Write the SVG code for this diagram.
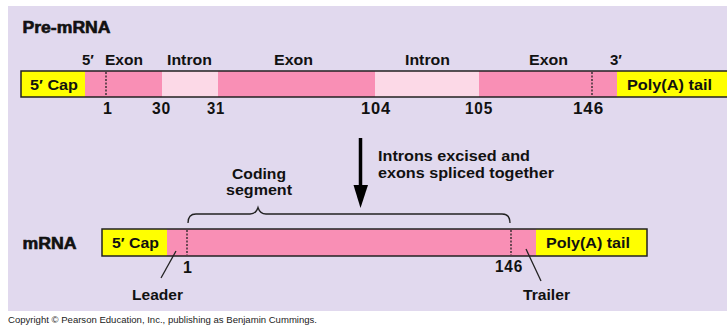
<svg xmlns="http://www.w3.org/2000/svg" width="727" height="330" viewBox="0 0 727 330">
<style>
.t{font-family:"Liberation Sans",Arial,Helvetica,sans-serif;font-weight:bold;font-size:15px;fill:#111}
.n{font-family:"Liberation Sans",Arial,Helvetica,sans-serif;font-weight:bold;font-size:16px;fill:#111;letter-spacing:0.8px}
.h{font-family:"Liberation Sans",Arial,Helvetica,sans-serif;font-weight:bold;font-size:16px;fill:#111;stroke:#111;stroke-width:0.6}
.c{font-family:"Liberation Sans",Arial,sans-serif;font-size:9px;fill:#222}
.out{fill:none;stroke:#222;stroke-width:1.5}
.exon{fill:#f98fb5}
.intron{fill:#fcd9e7}
.cap{fill:#ffff00}
.dot{stroke:#222;stroke-width:1.3;stroke-dasharray:2 1.5;fill:none}
.ln{stroke:#222;stroke-width:1.3;fill:none}
</style>
<rect x="0" y="0" width="727" height="330" fill="#ffffff"/>
<rect x="8" y="6" width="720" height="305" fill="#e1d9ee"/>
<text class="c" x="8" y="323" textLength="309" lengthAdjust="spacingAndGlyphs">Copyright © Pearson Education, Inc., publishing as Benjamin Cummings.</text>

<g id="pre-mrna">
  <text class="h" x="22.5" y="33" textLength="88" lengthAdjust="spacingAndGlyphs">Pre-mRNA</text>
  <rect class="cap" x="21" y="71" width="64" height="26"/>
  <rect class="exon" x="85" y="71" width="77" height="26"/>
  <rect class="intron" x="162" y="71" width="56" height="26"/>
  <rect class="exon" x="218" y="71" width="157" height="26"/>
  <rect class="intron" x="375" y="71" width="104" height="26"/>
  <rect class="exon" x="479" y="71" width="138" height="26"/>
  <rect class="cap" x="617" y="71" width="115" height="26"/>
  <line class="dot" x1="106" y1="72" x2="106" y2="96"/>
  <line class="dot" x1="592" y1="72" x2="592" y2="96"/>
  <path class="out" d="M730 71 H21 V97 H730"/>
  <text class="t" x="30" y="90" textLength="48" lengthAdjust="spacingAndGlyphs">5′ Cap</text>
  <text class="t" x="627" y="90" textLength="85" lengthAdjust="spacingAndGlyphs">Poly(A) tail</text>
  <text class="t" x="82" y="64.5">5′</text>
  <text class="t" x="105" y="64.5" textLength="38" lengthAdjust="spacingAndGlyphs">Exon</text>
  <text class="t" x="167" y="64.5" textLength="45" lengthAdjust="spacingAndGlyphs">Intron</text>
  <text class="t" x="274" y="64.5" textLength="39" lengthAdjust="spacingAndGlyphs">Exon</text>
  <text class="t" x="405" y="64.5" textLength="45" lengthAdjust="spacingAndGlyphs">Intron</text>
  <text class="t" x="529" y="64.5" textLength="39" lengthAdjust="spacingAndGlyphs">Exon</text>
  <text class="t" x="610" y="64.5">3′</text>
  <text class="n" x="103" y="114">1</text>
  <text class="n" x="152" y="114" textLength="19" lengthAdjust="spacingAndGlyphs">30</text>
  <text class="n" x="207" y="114" textLength="18" lengthAdjust="spacingAndGlyphs">31</text>
  <text class="n" x="361" y="114" textLength="30" lengthAdjust="spacingAndGlyphs">104</text>
  <text class="n" x="465" y="114" textLength="28" lengthAdjust="spacingAndGlyphs">105</text>
  <text class="n" x="573" y="114" textLength="31" lengthAdjust="spacingAndGlyphs">146</text>
</g>

<g id="process">
  <line x1="360.5" y1="138" x2="360.5" y2="190" stroke="#000" stroke-width="3.5"/>
  <polygon points="353.5,185 368,185 360.5,208" fill="#000"/>
  <text class="t" x="378" y="161" textLength="152" lengthAdjust="spacingAndGlyphs">Introns excised and</text>
  <text class="t" x="378" y="178" textLength="176" lengthAdjust="spacingAndGlyphs">exons spliced together</text>
</g>

<g id="coding-segment">
  <text class="t" x="259" y="179" text-anchor="middle" textLength="54" lengthAdjust="spacingAndGlyphs">Coding</text>
  <text class="t" x="259" y="195" text-anchor="middle" textLength="66" lengthAdjust="spacingAndGlyphs">segment</text>
  <path class="ln" d="M188 223 Q188 214 196 214 H250 Q256 214 258 207.5 Q260 214 266 214 H502 Q510 214 510 223"/>
</g>

<g id="mrna">
  <text class="h" x="22.5" y="249" textLength="54" lengthAdjust="spacingAndGlyphs">mRNA</text>
  <rect class="cap" x="102" y="229" width="65" height="27"/>
  <rect class="exon" x="167" y="229" width="369" height="27"/>
  <rect class="cap" x="536" y="229" width="111" height="27"/>
  <line class="dot" x1="187" y1="230" x2="187" y2="255"/>
  <line class="dot" x1="511" y1="230" x2="511" y2="255"/>
  <rect class="out" x="102" y="229" width="545" height="27"/>
  <text class="t" x="112" y="248" textLength="47" lengthAdjust="spacingAndGlyphs">5′ Cap</text>
  <text class="t" x="546" y="248" textLength="84" lengthAdjust="spacingAndGlyphs">Poly(A) tail</text>
  <text class="n" x="183" y="273">1</text>
  <text class="n" x="495" y="272" textLength="28" lengthAdjust="spacingAndGlyphs">146</text>
</g>

<g id="leader">
  <line class="ln" x1="176" y1="251" x2="161" y2="278"/>
  <text class="t" x="132" y="300" textLength="51" lengthAdjust="spacingAndGlyphs">Leader</text>
</g>

<g id="trailer">
  <line class="ln" x1="526" y1="249" x2="541" y2="281"/>
  <text class="t" x="523" y="300" textLength="47" lengthAdjust="spacingAndGlyphs">Trailer</text>
</g>
</svg>
